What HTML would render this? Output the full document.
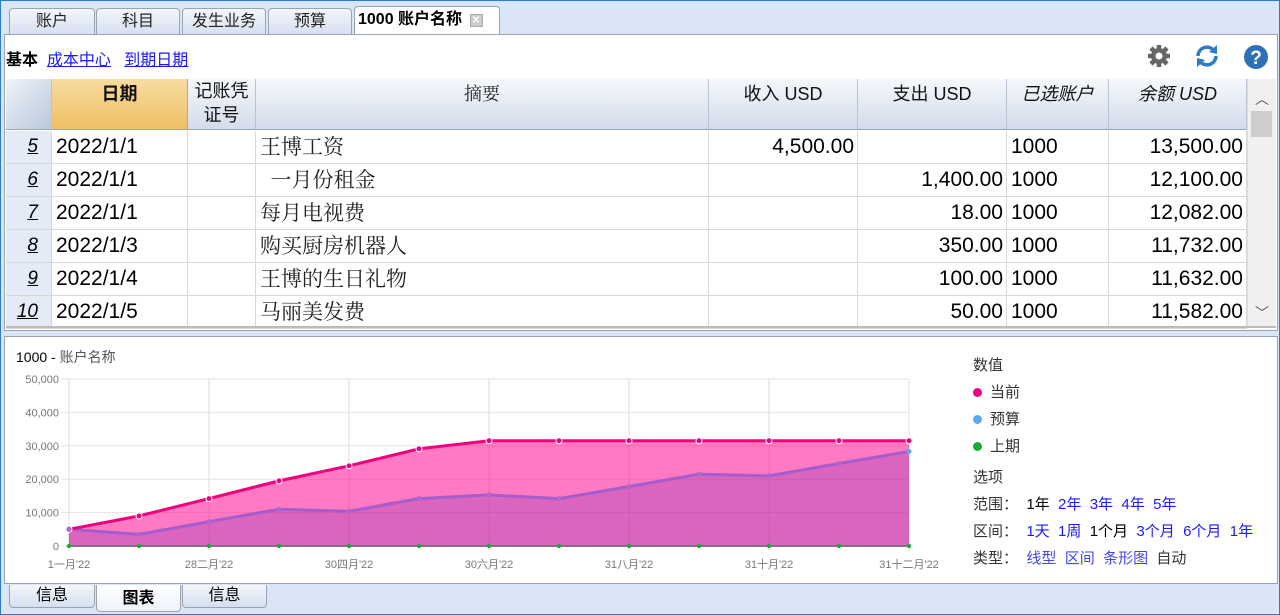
<!DOCTYPE html>
<html><head><meta charset="utf-8">
<style>
*{box-sizing:border-box;margin:0;padding:0}
body{width:1280px;height:615px;background:#dae6f6;font-family:"Liberation Sans","Noto Sans CJK SC",sans-serif;position:relative;overflow:hidden;border:1px solid #2a7bd6}
.abs{position:absolute}
.tab{position:absolute;top:7px;height:27px;border:1px solid #9aa4b0;border-bottom:none;border-radius:4px 4px 0 0;background:linear-gradient(#f4f7fb,#d5dff0);font-size:16px;text-align:center;line-height:26px;color:#222}
.tab.active{background:#fff;top:5px;height:29px;font-weight:bold;color:#000}
.btab{position:absolute;top:584px;height:23px;border:1px solid #9aa4b0;border-top:none;border-radius:0 0 4px 4px;background:linear-gradient(#f4f7fb,#d5dff0);font-size:16px;text-align:center;line-height:22px}
.btab.active{background:linear-gradient(#fff,#eef2fa);height:27px;line-height:28px;font-weight:bold}
.th{position:absolute;top:78px;height:51px;border-right:1px solid #b8c4d4;border-bottom:1px solid #9aaabf;background:linear-gradient(#f5f8fc,#d4dceb);font-size:18px;text-align:center;line-height:30px;color:#111}
.cell{position:absolute;height:33px;border-right:1px solid #d8d8d8;border-bottom:1px solid #d8d8d8;font-size:21px;line-height:32px;white-space:nowrap;overflow:hidden;color:#000}
.r{text-align:right;padding-right:3px}
.serif{font-family:"Liberation Serif","Noto Serif CJK SC",serif;color:#222}
.num{background:#e4ebf6;text-align:right;padding-right:13px;font-style:italic;text-decoration:underline;font-size:19px}
a,.lnk{color:#1a1aff}
.leg{position:absolute;left:972px;font-size:15px;color:#333}
</style></head><body>
<div class="tab" style="left:8px;width:86px">账户</div>
<div class="tab" style="left:95px;width:84px">科目</div>
<div class="tab" style="left:181px;width:84px">发生业务</div>
<div class="tab" style="left:267px;width:84px">预算</div>
<div class="tab active" style="left:353px;width:146px;text-align:left;padding-left:3px">1000 账户名称 <span style="display:inline-block;width:13px;height:13px;background:#ccc;border:1px solid #aaa;font-size:10px;line-height:11px;text-align:center;color:#fff;vertical-align:1px;margin-left:3px">✕</span></div>

<div class="abs" style="left:3px;top:33px;width:1274px;height:297px;background:#fff;border:1px solid #9aa4b0"></div>
<div class="abs" style="left:5px;top:45px;font-size:16px"><b>基本</b>&nbsp;&nbsp;<a style="text-decoration:underline">成本中心</a>&nbsp;&nbsp;&nbsp;<a style="text-decoration:underline">到期日期</a></div>
<svg class="abs" style="left:1146px;top:43px" width="24" height="24" viewBox="0 0 24 24"><g fill="#666"><circle cx="12" cy="12" r="8"/><g stroke="#666" stroke-width="4.5"><line x1="12" y1="1" x2="12" y2="23"/><line x1="1" y1="12" x2="23" y2="12"/><line x1="4" y1="4" x2="20" y2="20"/><line x1="20" y1="4" x2="4" y2="20"/></g></g><circle cx="12" cy="12" r="3.5" fill="#fff"/></svg>
<svg class="abs" style="left:1193px;top:42px" width="26" height="26" viewBox="0 0 26 26"><path d="M4 13a9 9 0 0 1 16-5.5" stroke="#2f7bc4" stroke-width="3.5" fill="none"/><path d="M22 13a9 9 0 0 1-16 5.5" stroke="#2f7bc4" stroke-width="3.5" fill="none"/><polygon points="23,2 23,11 15,9" fill="#2f7bc4"/><polygon points="3,24 3,15 11,17" fill="#2f7bc4"/></svg>
<svg class="abs" style="left:1242px;top:43px" width="26" height="26"><circle cx="13" cy="13" r="12" fill="#2f6fb6"/><text x="13" y="20" font-size="19" font-weight="bold" fill="#fff" text-anchor="middle" font-family="Liberation Sans">?</text></svg>

<div class="th" style="left:5px;width:46px;background:linear-gradient(135deg,#f0f4fa,#b9c8dc)"></div>
<div class="th" style="left:51px;width:136px;background:linear-gradient(#f7dca0,#efbf64);font-weight:bold;border-right-color:#e0a040">日期</div>
<div class="th" style="left:187px;width:68px;line-height:24px">记账凭<br>证号</div>
<div class="th serif" style="left:255px;width:453px">摘要</div>
<div class="th" style="left:708px;width:149px">收入 USD</div>
<div class="th" style="left:857px;width:149px">支出 USD</div>
<div class="th" style="left:1006px;width:102px;font-style:italic">已选账户</div>
<div class="th" style="left:1108px;width:138px;font-style:italic">余额 USD</div>
<div class="abs" style="left:1246px;top:78px;width:29px;height:248px;background:#f0f0f0;border-left:1px solid #ddd">
<div style="text-align:center;font-size:14px;color:#555;margin-top:10px">︿</div>
<div style="position:absolute;left:3px;top:32px;width:21px;height:26px;background:#cdcdcd"></div>
<div style="position:absolute;bottom:4px;width:100%;text-align:center;font-size:14px;color:#555">﹀</div>
</div>
<div id="rows"></div>
<div class="abs" style="left:5px;top:325px;width:1270px;height:2px;background:#bbb"></div>

<div class="abs" style="left:3px;top:335px;width:1274px;height:248px;background:#fff;border:1px solid #9aa4b0"></div>
<div class="abs" style="left:15px;top:346px;font-size:14px;color:#000">1000 - <span style="color:#555">账户名称</span></div>
<svg class="abs" style="left:0;top:339px" width="960" height="240" id="chart"></svg>

<div class="leg" style="top:353px">数值</div>
<div class="leg" style="top:380px"><span style="display:inline-block;width:9px;height:9px;border-radius:50%;background:#f0007f;margin-right:8px"></span>当前</div>
<div class="leg" style="top:407px"><span style="display:inline-block;width:9px;height:9px;border-radius:50%;background:#5aaaf0;margin-right:8px"></span>预算</div>
<div class="leg" style="top:434px"><span style="display:inline-block;width:9px;height:9px;border-radius:50%;background:#1fa83a;margin-right:8px"></span>上期</div>
<div class="leg" style="top:465px">选项</div>
<div class="leg" style="top:492px;white-space:nowrap">范围：&nbsp;&nbsp;<span style="color:#000">1年</span>&nbsp; <span class="lnk">2年</span>&nbsp; <span class="lnk">3年</span>&nbsp; <span class="lnk">4年</span>&nbsp; <span class="lnk">5年</span></div>
<div class="leg" style="top:519px;white-space:nowrap">区间：&nbsp;&nbsp;<span class="lnk">1天</span>&nbsp; <span class="lnk">1周</span>&nbsp; <span style="color:#000">1个月</span>&nbsp; <span class="lnk">3个月</span>&nbsp; <span class="lnk">6个月</span>&nbsp; <span class="lnk">1年</span></div>
<div class="leg" style="top:546px;white-space:nowrap">类型：&nbsp;&nbsp;<span class="lnk" style="color:#4444ee">线型</span>&nbsp; <span class="lnk" style="color:#4444ee">区间</span>&nbsp; <span class="lnk" style="color:#4444ee">条形图</span>&nbsp; <span>自动</span></div>

<div class="btab" style="left:8px;width:86px">信息</div>
<div class="btab active" style="left:95px;width:85px">图表</div>
<div class="btab" style="left:181px;width:85px">信息</div>

<script>
const rowNums=["5","6","7","8","9","10"];
const dates=["2022/1/1","2022/1/1","2022/1/1","2022/1/3","2022/1/4","2022/1/5"];
const descs=["王博工资","  一月份租金","每月电视费","购买厨房机器人","王博的生日礼物","马丽美发费"];
const incomes=["4,500.00","","","","",""];
const expenses=["","1,400.00","18.00","350.00","100.00","50.00"];
const balances=["13,500.00","12,100.00","12,082.00","11,732.00","11,632.00","11,582.00"];
const rows=document.getElementById('rows');
rowNums.forEach((n,i)=>{
  const y=130+i*33;
  const cols=[[5,46,n,'num'],[51,136,dates[i],''],[187,68,'',''],[255,453,descs[i],'serif'],[708,149,incomes[i],'r'],[857,149,expenses[i],'r'],[1006,102,'1000',''],[1108,138,balances[i],'r']];
  cols.forEach((c,j)=>{
    const d=document.createElement('div');
    d.className='cell '+c[3];
    d.style.cssText=`left:${c[0]}px;top:${y}px;width:${c[1]}px;white-space:pre;`+((c[3]==''||c[3]=='serif')?'padding-left:4px;':'');
    d.textContent=c[2];
    
    
    rows.appendChild(d);
  });
});

// chart data
const current=[5000,9000,14200,19500,24000,29100,31500,31500,31500,31500,31500,31500,31500];
const budget=[5000,3500,7300,11000,10400,14200,15300,14200,17800,21500,21000,24700,28300];
const previous=[0,0,0,0,0,0,0,0,0,0,0,0,0];
const yTicks=[0,10000,20000,30000,40000,50000];
const yTickLabels=["0","10,000","20,000","30,000","40,000","50,000"];
const xTickIdx=[0,2,4,6,8,10,12];
const xTickLabels=["1一月'22","28二月'22","30四月'22","30六月'22","31八月'22","31十月'22","31十二月'22"];
const X0=68,X1=908,T=39,B=206,YMAX=50000;
const n=current.length;
const xs=i=>X0+(X1-X0)*i/(n-1);
const ys=v=>B-(B-T)*v/YMAX;
const svg=document.getElementById('chart');
const NS='http://www.w3.org/2000/svg';
function el(t,a,p){const e=document.createElementNS(NS,t);for(const k in a)e.setAttribute(k,a[k]);(p||svg).appendChild(e);return e;}
yTicks.forEach((v,i)=>{
  const g=el('line',{x1:60,x2:X1,y1:ys(v),y2:ys(v),stroke:'#e2e2e2'});
  
  
  const t=el('text',{x:58,y:ys(v)+4,'text-anchor':'end','font-size':11,fill:'#777','font-family':'Liberation Sans'});
  t.textContent=yTickLabels[i];
  
  
});
xTickIdx.forEach((idx,i)=>{
  const g=el('line',{x1:xs(idx),x2:xs(idx),y1:T,y2:B+5,stroke:'#dedede'});
  
  
  const t=el('text',{x:xs(idx),y:B+22,'text-anchor':'middle','font-size':11,fill:'#777','font-family':'Liberation Sans, Noto Sans CJK SC, sans-serif'});
  t.textContent=xTickLabels[i];
  
  
});
el('line',{x1:X1,x2:X1,y1:T,y2:B,stroke:'#e2e2e2'});
function area(vals,fill,name){
  let d=`M${xs(0)},${B}`;vals.forEach((v,i)=>d+=`L${xs(i)},${ys(v)}`);d+=`L${xs(n-1)},${B}Z`;
  const a=el('path',{d:d,fill:fill});
  
  
}
function line(vals,stroke,w,name){
  const p=el('polyline',{points:vals.map((v,i)=>xs(i)+','+ys(v)).join(' '),fill:'none',stroke:stroke,'stroke-width':w});
  
  
}
area(current,'rgba(255,0,140,0.52)','current-area');
area(budget,'rgba(150,60,180,0.35)','budget-area');
line(budget,'#a55ccc',3,'budget-line');
line(current,'#f0007f',3,'current-line');
line(previous,'#8a6a8a',2,'previous-line');
current.forEach((v,i)=>{const c=el('circle',{cx:xs(i),cy:ys(v),r:3,fill:'#f0007f',stroke:'#fff','stroke-width':1});
  
  });
budget.forEach((v,i)=>{const c=el('circle',{cx:xs(i),cy:ys(v),r:2.5,fill:i==n-1?'#5aaaf0':'#b066cc'});
  
  });
previous.forEach((v,i)=>{const c=el('circle',{cx:xs(i),cy:ys(v),r:2.2,fill:'#1fa83a'});
  
  });
</script>
</body></html>
